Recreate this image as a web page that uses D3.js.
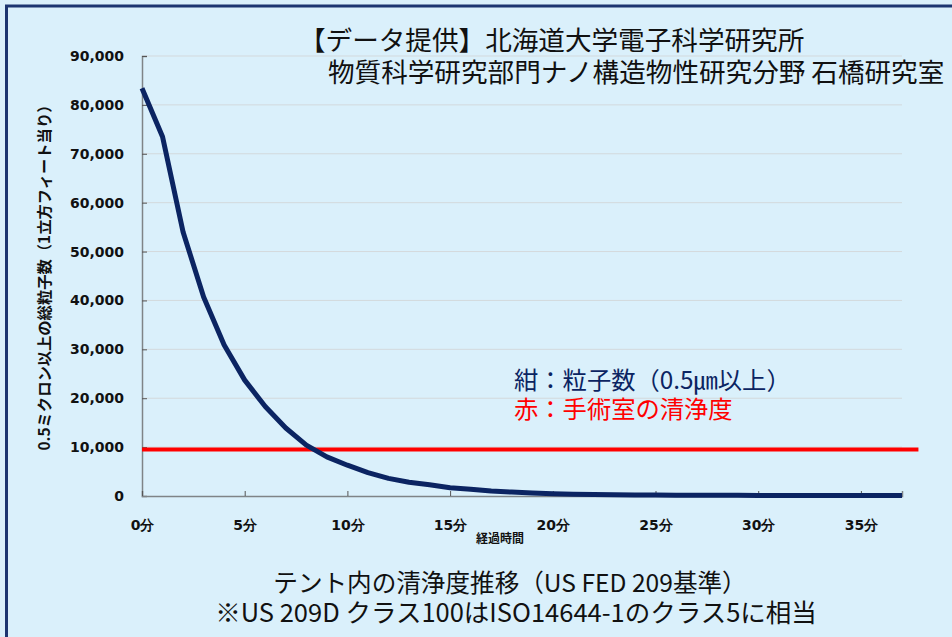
<!DOCTYPE html>
<html>
<head>
<meta charset="utf-8">
<script src="https://cdn.jsdelivr.net/npm/d3@7"></script>
<style>
  html, body { margin: 0; padding: 0; background: #daf0fb; overflow: hidden; }
  .canvas { width: 952px; height: 637px; }
</style>
</head>
<body>
<div class="canvas"></div>
<script>
// data.
const minutes = d3.range(0, 38);
const particles = [
    83400, 73500, 54000, 40700, 30900, 23700, 18300, 13900, 10400, 8000,
    6300, 4800, 3600, 2800, 2300, 1700, 1400, 1000, 800, 600,
    450, 350, 300, 250, 200, 180, 160, 150, 140, 130,
    120, 110, 100, 100, 90, 90, 80, 80
];
const limitValue = 9500;
const limitSpan = [0, 37.8];
const yTicks = [0, 10000, 20000, 30000, 40000, 50000, 60000, 70000, 80000, 90000];
const xTicks = [0, 5, 10, 15, 20, 25, 30, 35];

const titleLines = ['【データ提供】北海道大学電子科学研究所', '物質科学研究部門ナノ構造物性研究分野 石橋研究室'];
const legendLines = [
    { text: '紺：粒子数（0.5㎛以上）', color: '#0b2462' },
    { text: '赤：手術室の清浄度', color: '#ff0000' }
];
const noteLines = ['テント内の清浄度推移（US FED 209基準）', '※US 209D クラス100はISO14644-1のクラス5に相当'];
const yTitle = '0.5ミクロン以上の総粒子数（1立方フィート当り）';
const xTitle = '経過時間';

// dimensions.
const svgDimensions = { width: 952, height: 637 };
const plot = { left: 142, right: 902, top: 56, bottom: 496 };
const cjk = '"Noto Sans CJK JP", "Noto Sans", sans-serif';
const tickFont = '"DejaVu Sans", Verdana, sans-serif';

const svg = d3.select('.canvas')
    .append('svg')
        .attr('width', svgDimensions.width)
        .attr('height', svgDimensions.height);

// background and frame.
svg.append('rect')
    .attr('x', 0).attr('y', 0)
    .attr('width', svgDimensions.width).attr('height', svgDimensions.height)
    .attr('fill', '#daf0fb');

svg.append('rect')
    .attr('x', 6.5).attr('y', 6)
    .attr('width', 1000).attr('height', 700)
    .attr('fill', 'none')
    .attr('stroke', '#1c3570')
    .attr('stroke-width', 3);

const x = d3.scaleLinear().domain([0, 37]).range([plot.left, plot.right]);
const y = d3.scaleLinear().domain([0, 90000]).range([plot.bottom, plot.top]);

// gridlines.
svg.append('g')
    .selectAll('line')
    .data(yTicks.filter(d => d > 0))
    .join('line')
        .attr('x1', plot.left).attr('x2', plot.right)
        .attr('y1', d => y(d)).attr('y2', d => y(d))
        .attr('stroke', '#d3d9dc')
        .attr('stroke-width', 1);

// axes.
const yAxis = d3.axisLeft(y)
    .tickValues(yTicks)
    .tickSize(-5)
    .tickPadding(18)
    .tickFormat(d3.format(','));

const yAxisGroup = svg.append('g')
    .attr('transform', `translate(${plot.left},0)`)
    .call(yAxis);

const xAxis = d3.axisBottom(x)
    .tickValues(xTicks)
    .tickSize(-5)
    .tickPadding(24)
    .tickFormat(d => d + '分');

const xAxisGroup = svg.append('g')
    .attr('transform', `translate(0,${plot.bottom})`)
    .call(xAxis);

[yAxisGroup, xAxisGroup].forEach(g => {
    g.select('.domain').attr('stroke', '#7f8487').attr('stroke-width', 1.5);
    g.selectAll('.tick line').attr('stroke', '#555');
    g.selectAll('text')
        .attr('fill', '#111')
        .attr('font-family', tickFont)
        .attr('font-weight', 'bold')
        .attr('font-size', 14);
});

// red limit line.
svg.append('line')
    .attr('x1', x(limitSpan[0])).attr('x2', x(limitSpan[1]))
    .attr('y1', y(limitValue)).attr('y2', y(limitValue))
    .attr('stroke', '#ff0000')
    .attr('stroke-width', 4);

// particle curve.
const line = d3.line()
    .x((d, i) => x(minutes[i]))
    .y(d => y(d));

svg.append('path')
    .datum(particles)
    .attr('d', line)
    .attr('fill', 'none')
    .attr('stroke', '#0b2462')
    .attr('stroke-width', 5)
    .attr('stroke-linejoin', 'round');

// axis titles.
svg.append('text')
    .attr('transform', 'translate(50,274) rotate(-90)')
    .attr('text-anchor', 'middle')
    .attr('font-family', cjk)
    .attr('font-weight', 'bold')
    .attr('font-size', 15.3)
    .attr('fill', '#111')
    .text(yTitle);

svg.append('text')
    .attr('x', 500).attr('y', 543)
    .attr('text-anchor', 'middle')
    .attr('font-family', cjk)
    .attr('font-weight', 'bold')
    .attr('font-size', 12)
    .attr('fill', '#111')
    .text(xTitle);

// title (data source).
svg.append('g')
    .selectAll('text')
    .data(titleLines)
    .join('text')
        .attr('x', (d, i) => i === 0 ? 299 : 328)
        .attr('y', (d, i) => 50 + i * 32)
        .attr('font-family', cjk)
        .attr('font-size', 26.6)
        .attr('fill', '#111')
        .text(d => d);

// legend text.
svg.append('g')
    .selectAll('text')
    .data(legendLines)
    .join('text')
        .attr('x', 514)
        .attr('y', (d, i) => 389 + i * 29)
        .attr('font-family', cjk)
        .attr('font-size', 24.3)
        .attr('fill', d => d.color)
        .text(d => d.text);

// bottom note.
svg.append('g')
    .selectAll('text')
    .data(noteLines)
    .join('text')
        .attr('x', (d, i) => i === 0 ? 510 : 516)
        .attr('y', (d, i) => 592 + i * 30)
        .attr('text-anchor', 'middle')
        .attr('font-family', cjk)
        .attr('font-size', (d, i) => i === 0 ? 24.6 : 25.5)
        .attr('fill', '#111')
        .text(d => d);
</script>
</body>
</html>
